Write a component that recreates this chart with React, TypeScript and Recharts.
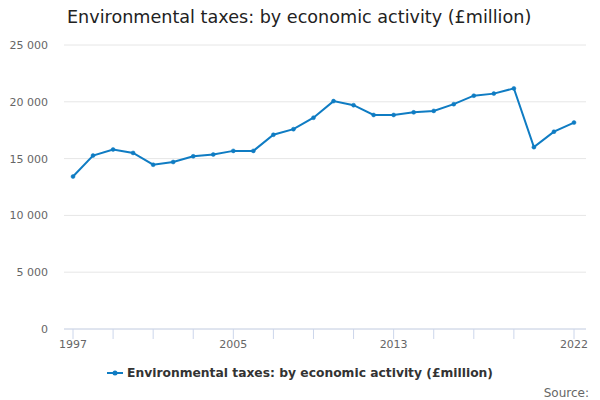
import { LineChart, Line, XAxis, YAxis, CartesianGrid, Legend } from "recharts";

const years = [
  1997, 1998, 1999, 2000, 2001, 2002, 2003, 2004, 2005, 2006, 2007, 2008, 2009,
  2010, 2011, 2012, 2013, 2014, 2015, 2016, 2017, 2018, 2019, 2020, 2021, 2022,
];
const taxes = [
  13420, 15270, 15800, 15500, 14460, 14700, 15200, 15360, 15680, 15680, 17100,
  17590, 18600, 20060, 19700, 18840, 18840, 19070, 19200, 19790, 20540, 20720,
  21180, 16010, 17370, 18170,
];
const xTicks = [
  1997, 1999, 2001, 2003, 2005, 2007, 2009, 2011, 2013, 2015, 2017, 2019, 2022,
];
const xLabels = [1997, 2005, 2013, 2022];
const yTicks = [0, 5000, 10000, 15000, 20000, 25000];

const seriesName = "Environmental taxes: by economic activity (£million)";
const blue = "#0f7cc3";
const font = "'DejaVu Sans', sans-serif";

const data = years.map((year, i) => ({ year, value: taxes[i] }));

const fmt = (v: number) => (v >= 1000 ? String(v).replace(/(\d)(?=(\d{3})+$)/g, "$1 ") : String(v));

const LegendContent = () => (
  <div
    style={{
      display: "flex",
      justifyContent: "center",
      alignItems: "center",
      fontFamily: font,
      fontSize: 12.3,
      fontWeight: "bold",
      color: "#333",
      paddingLeft: 14,
    }}
  >
    <svg width={16} height={10} style={{ marginRight: 4 }}>
      <line x1={0} y1={5} x2={16} y2={5} stroke={blue} strokeWidth={2} />
      <circle cx={8} cy={5} r={2.5} fill={blue} />
    </svg>
    {seriesName}
  </div>
);

const App = () => {
  return (
    <div
      style={{
        position: "absolute",
        top: 0,
        left: 0,
        width: 600,
        height: 400,
        background: "#fff",
        fontFamily: font,
      }}
    >
      <div
        style={{
          position: "absolute",
          top: 7,
          left: 67,
          fontSize: 17.6,
          color: "#222",
          whiteSpace: "nowrap",
        }}
      >
        {seriesName}
      </div>
      <LineChart
        width={600}
        height={400}
        data={data}
        margin={{ top: 45, right: 14, bottom: 21, left: 0 }}
      >
        <CartesianGrid vertical={false} stroke="#e6e6e6" />
        <XAxis
          dataKey="year"
          type="number"
          domain={[1997, 2022]}
          ticks={xTicks}
          interval={0}
          padding={{ left: 9, right: 12 }}
          tickFormatter={(v: number) => (xLabels.includes(v) ? String(v) : "")}
          tick={{ fontSize: 11, fill: "#666", fontFamily: font }}
          tickSize={10}
          tickMargin={1}
          stroke="#ccd6eb"
          height={30}
        />
        <YAxis
          domain={[0, 25000]}
          ticks={yTicks}
          tickFormatter={fmt}
          tick={{ fontSize: 11, fill: "#666", fontFamily: font }}
          axisLine={false}
          tickLine={false}
          tickMargin={10}
          width={64}
        />
        <Legend
          verticalAlign="bottom"
          height={20}
          wrapperStyle={{ bottom: 14 }}
          content={<LegendContent />}
        />
        <Line
          type="linear"
          dataKey="value"
          name={seriesName}
          stroke={blue}
          strokeWidth={2}
          dot={{ r: 2, fill: blue, stroke: blue, strokeWidth: 0.5 }}
          isAnimationActive={false}
        />
      </LineChart>
      <div
        style={{
          position: "absolute",
          top: 386,
          right: 11,
          fontSize: 12,
          color: "#666",
        }}
      >
        Source:
      </div>
    </div>
  );
};

export default App;
